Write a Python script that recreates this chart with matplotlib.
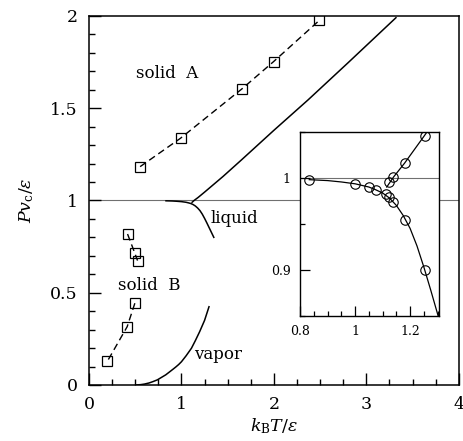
import numpy as np
import matplotlib
matplotlib.use("Agg")
import matplotlib.pyplot as plt
from matplotlib.ticker import MultipleLocator, FuncFormatter

plt.rcParams["font.family"] = ["DejaVu Serif"]
plt.rcParams["mathtext.fontset"] = "dejavuserif"

# solid A / solid B boundary points (squares, dashed)
solidA_T = [0.553, 0.99, 1.658, 1.996, 2.49]
solidA_P = [1.183, 1.337, 1.606, 1.752, 1.975]
solidB_hi_T = [0.417, 0.496, 0.525]
solidB_hi_P = [0.818, 0.714, 0.674]
solidB_lo_T = [0.496, 0.413, 0.198]
solidB_lo_P = [0.443, 0.316, 0.128]

# liquid-vapor coexistence (vapor pressure)
vap_T = [0.51, 0.56, 0.60, 0.65, 0.69, 0.74, 0.78, 0.83, 0.874, 0.91, 0.94, 0.97,
         1.0, 1.05, 1.108, 1.15, 1.197, 1.25, 1.298]
vap_P = [0.0, 0.002, 0.005, 0.011, 0.018, 0.028, 0.040, 0.055, 0.072, 0.086, 0.098, 0.111,
         0.126, 0.158, 0.199, 0.24, 0.289, 0.35, 0.424]

# liquid branch near P = 1
liq_T = [0.833, 0.90, 0.95, 1.00, 1.05, 1.075, 1.10, 1.125, 1.15, 1.175,
         1.20, 1.225, 1.25, 1.275, 1.30, 1.35]
liq_P = [0.998, 0.997, 0.9955, 0.9935, 0.990, 0.987, 0.9835, 0.978, 0.970, 0.959,
         0.945, 0.926, 0.903, 0.878, 0.852, 0.80]

# solid A - fluid line
melt_T = [1.115, 1.14, 1.18, 1.25, 1.45, 1.65, 2.0, 2.37, 2.8, 3.32]
melt_P = [0.990, 1.001, 1.016, 1.045, 1.13, 1.22, 1.38, 1.545, 1.745, 1.99]

# inset circles
circ_lo_T = [0.833, 1.0, 1.051, 1.075, 1.112, 1.124, 1.138, 1.181, 1.253]
circ_lo_P = [0.998, 0.9936, 0.990, 0.987, 0.982, 0.979, 0.974, 0.954, 0.900]
circ_hi_T = [1.124, 1.138, 1.18, 1.253]
circ_hi_P = [0.996, 1.0007, 1.016, 1.046]

fig = plt.figure(figsize=(4.64, 4.41), dpi=100)
ax = fig.add_axes([0.1918, 0.127, 0.797, 0.837])

lw = 1.1
ax.axhline(1.0, color="#707070", lw=0.8, zorder=1)
dash = (0, (5, 3))
sq = dict(marker="s", ms=6.5, mfc="none", mec="black", mew=0.9)
ax.plot(solidA_T, solidA_P, color="black", lw=1.0, ls=dash, **sq)
ax.plot(solidB_hi_T, solidB_hi_P, color="black", lw=1.0, ls=dash, **sq)
ax.plot(solidB_lo_T, solidB_lo_P, color="black", lw=1.0, ls=dash, **sq)
ax.plot(vap_T, vap_P, color="black", lw=lw)
ax.plot(liq_T, liq_P, color="black", lw=lw)
ax.plot(melt_T, melt_P, color="black", lw=lw)

fs = 12
ax.text(0.51, 1.69, "solid  A", fontsize=fs, va="center")
ax.text(0.31, 0.54, "solid  B", fontsize=fs, va="center")
ax.text(1.32, 0.90, "liquid", fontsize=fs, va="center")
ax.text(1.14, 0.163, "vapor", fontsize=fs, va="center")

ax.set_xlim(0, 4)
ax.set_ylim(0, 2)
ax.xaxis.set_major_locator(MultipleLocator(1))
ax.xaxis.set_minor_locator(MultipleLocator(0.25))
ax.yaxis.set_major_locator(MultipleLocator(0.5))
ax.yaxis.set_minor_locator(MultipleLocator(0.1))
fmt = FuncFormatter(lambda v, p: "%g" % v)
ax.xaxis.set_major_formatter(fmt)
ax.yaxis.set_major_formatter(fmt)
ax.tick_params(which="both", direction="in", top=False, right=False, width=1.0)
ax.tick_params(which="major", length=8.5, pad=8, labelsize=12.5)
ax.tick_params(which="minor", length=4.3)
for s in ax.spines.values():
    s.set_linewidth(1.1)
ax.set_xlabel(r"$k_{\rm B}T/\epsilon$", fontsize=12.5, labelpad=2)
ax.set_ylabel(r"$Pv_{\rm c}/\epsilon$", fontsize=12.5, labelpad=10)

# inset
ins = fig.add_axes([0.647, 0.284, 0.299, 0.417])
ins.axhline(1.0, color="#707070", lw=0.8, zorder=1)
ins.plot(liq_T, liq_P, color="black", lw=0.9)
ins.plot(melt_T, melt_P, color="black", lw=0.9)
circ = dict(ls="none", marker="o", ms=6.8, mfc="none", mec="black", mew=0.8)
ins.plot(circ_lo_T, circ_lo_P, **circ)
ins.plot(circ_hi_T, circ_hi_P, **circ)
ins.set_xlim(0.8, 1.305)
ins.set_ylim(0.85, 1.05)
ins.xaxis.set_major_locator(MultipleLocator(0.2))
ins.xaxis.set_minor_locator(MultipleLocator(0.05))
ins.yaxis.set_major_locator(MultipleLocator(0.1))
ins.yaxis.set_minor_locator(MultipleLocator(0.05))
ins.xaxis.set_major_formatter(fmt)
ins.yaxis.set_major_formatter(fmt)
ins.tick_params(which="both", direction="in", top=False, right=False, width=0.9)
ins.tick_params(which="major", length=7.5, pad=7, labelsize=9)
ins.tick_params(which="minor", length=3.8)
for s in ins.spines.values():
    s.set_linewidth(1.0)

fig.savefig("out.png", dpi=100)
